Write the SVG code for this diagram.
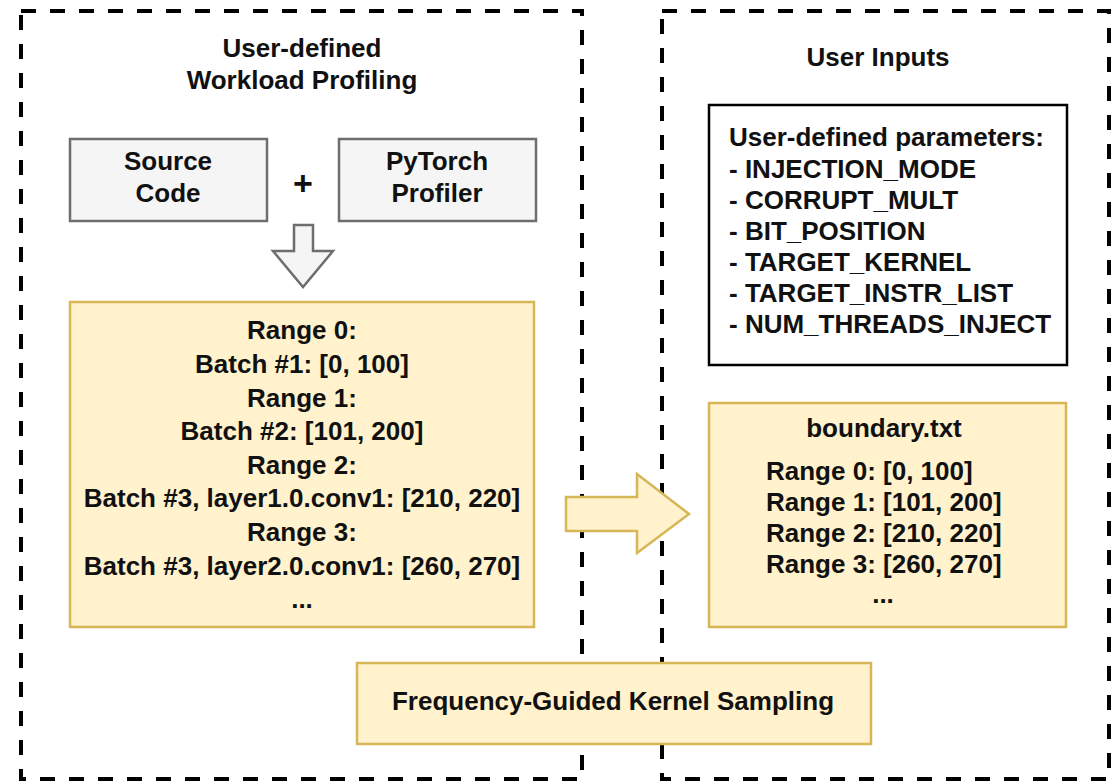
<svg xmlns="http://www.w3.org/2000/svg" width="1111" height="783" viewBox="0 0 1111 783">
  <style>
    text { font-family: "Liberation Sans", Arial, Helvetica, sans-serif; font-weight: bold; font-size: 26px; fill: #111111; }
    .mid { text-anchor: middle; }
    .frame { fill: none; stroke: #000000; stroke-width: 4; stroke-dasharray: 15 14; }
    .grey { fill: #f5f5f5; stroke: #6e6e6e; stroke-width: 2.5; }
    .note { fill: #fff2cc; stroke: #d6b656; stroke-width: 2.5; }
    .plain { fill: #ffffff; stroke: #000000; stroke-width: 2.5; }
  </style>
  <rect width="1111" height="783" fill="#ffffff"/>

  <!-- dashed container frames -->
  <g id="profiling-frame">
    <rect class="frame" x="21" y="11" width="561" height="768"/>
    <text class="mid" x="302" y="57">User-defined</text>
    <text class="mid" x="302" y="89">Workload Profiling</text>
  </g>
  <g id="inputs-frame">
    <rect class="frame" x="662" y="11" width="447" height="768"/>
    <text class="mid" x="878" y="66">User Inputs</text>
  </g>

  <g id="source-code">
    <rect class="grey" x="70" y="139" width="197" height="82"/>
    <text class="mid" x="168" y="170">Source</text>
    <text class="mid" x="168" y="202">Code</text>
  </g>
  <g id="plus">
    <text class="mid" x="303" y="195" style="font-size:34px">+</text>
  </g>
  <g id="pytorch-profiler">
    <rect class="grey" x="339" y="139" width="197" height="82"/>
    <text class="mid" x="437" y="170">PyTorch</text>
    <text class="mid" x="437" y="202">Profiler</text>
  </g>

  <g id="ranges">
    <rect class="note" x="70" y="302" width="464" height="325"/>
    <text class="mid" x="302" y="339">Range 0:</text>
    <text class="mid" x="302" y="373">Batch #1: [0, 100]</text>
    <text class="mid" x="302" y="407">Range 1:</text>
    <text class="mid" x="302" y="440">Batch #2: [101, 200]</text>
    <text class="mid" x="302" y="474">Range 2:</text>
    <text class="mid" x="302" y="507">Batch #3, layer1.0.conv1: [210, 220]</text>
    <text class="mid" x="302" y="541">Range 3:</text>
    <text class="mid" x="302" y="575">Batch #3, layer2.0.conv1: [260, 270]</text>
    <text class="mid" x="302" y="608">...</text>
  </g>

  <g id="parameters">
    <rect class="plain" x="709" y="105" width="358" height="260"/>
    <text x="729" y="146">User-defined parameters:</text>
    <text x="729" y="178">- INJECTION_MODE</text>
    <text x="729" y="209">- CORRUPT_MULT</text>
    <text x="729" y="240">- BIT_POSITION</text>
    <text x="729" y="271">- TARGET_KERNEL</text>
    <text x="729" y="302">- TARGET_INSTR_LIST</text>
    <text x="729" y="333">- NUM_THREADS_INJECT</text>
  </g>

  <g id="boundary">
    <rect class="note" x="709" y="403" width="357" height="224"/>
    <text class="mid" x="884" y="437">boundary.txt</text>
    <text x="766" y="480">Range 0: [0, 100]</text>
    <text x="766" y="511">Range 1: [101, 200]</text>
    <text x="766" y="542">Range 2: [210, 220]</text>
    <text x="766" y="573">Range 3: [260, 270]</text>
    <text class="mid" x="883" y="603">...</text>
  </g>

  <!-- block arrows -->
  <g id="connectors">
    <path class="grey" d="M294 225 H313 V251 H333 L303 287 L273 251 H294 Z"/>
    <path class="note" d="M566 497 H637 V474 L689 514 L637 553 V531 H566 Z"/>
  </g>

  <g id="kernel-sampling">
    <rect class="note" x="357" y="663" width="514" height="81"/>
    <text class="mid" x="613" y="710">Frequency-Guided Kernel Sampling</text>
  </g>
</svg>
